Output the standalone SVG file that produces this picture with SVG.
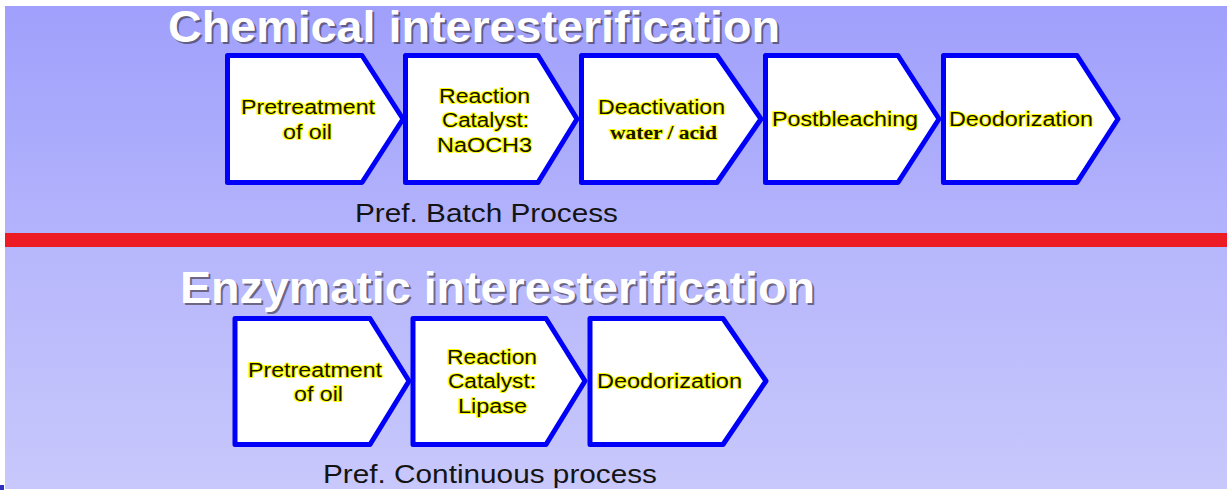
<svg xmlns="http://www.w3.org/2000/svg" width="1227" height="490" viewBox="0 0 1227 490">
  <defs>
    <linearGradient id="gTop" x1="0" y1="0" x2="0" y2="1">
      <stop offset="0" stop-color="#A0A0FC"/>
      <stop offset="1" stop-color="#B3B3FC"/>
    </linearGradient>
    <linearGradient id="gBot" x1="0" y1="0" x2="0" y2="1">
      <stop offset="0" stop-color="#B6B6FC"/>
      <stop offset="1" stop-color="#C8C8FC"/>
    </linearGradient>
  </defs>
  <style>
    .chev { fill: #FFFFFF; stroke: #0000FA; stroke-width: 5; stroke-linejoin: round; }
    .lbl { font-family: "Liberation Sans", Arial, sans-serif; font-size: 20px; fill: #141400; stroke: #FFFF00; stroke-width: 2.2; paint-order: stroke; stroke-linejoin: round; }
    .lbls { font-family: "Liberation Serif", "Times New Roman", serif; font-size: 18px; font-weight: bold; fill: #141400; stroke: #FFFF00; stroke-width: 2; paint-order: stroke; stroke-linejoin: round; }
    .title { font-family: "Liberation Sans", Arial, sans-serif; font-size: 45px; font-weight: bold; fill: #FFFFFF; }
    .shadow { font-family: "Liberation Sans", Arial, sans-serif; font-size: 45px; font-weight: bold; fill: #3A3036; opacity: 0.6; }
    .note { font-family: "Liberation Sans", Arial, sans-serif; font-size: 25px; fill: #141414; }
  </style>

  <!-- background -->
  <rect x="0" y="0" width="1227" height="490" fill="#FFFFFF"/>
  <rect x="5" y="6" width="1222" height="228" fill="url(#gTop)"/>
  <rect x="5" y="246" width="1222" height="243" fill="url(#gBot)"/>
  <rect x="5" y="233" width="1222" height="14" fill="#ED1C24"/>
  <rect x="0" y="485" width="4" height="5" fill="#3030C0"/>

  <!-- titles -->
  <g id="title-chemical">
    <text class="shadow" x="170" y="44" textLength="612" lengthAdjust="spacingAndGlyphs">Chemical interesterification</text>
    <text class="title" x="168" y="42" textLength="612" lengthAdjust="spacingAndGlyphs">Chemical interesterification</text>
  </g>
  <g id="title-enzymatic">
    <text class="shadow" x="182" y="305" textLength="635" lengthAdjust="spacingAndGlyphs">Enzymatic interesterification</text>
    <text class="title" x="180" y="303" textLength="635" lengthAdjust="spacingAndGlyphs">Enzymatic interesterification</text>
  </g>

  <!-- connectors (chevrons abut directly; none drawn) -->
  <g id="connectors"></g>

  <!-- upper chain -->
  <g id="c1">
    <path class="chev" d="M227.5,55.5 H362 L403,119 L362,182.5 H227.5 Z"/>
    <text class="lbl" x="241" y="114" textLength="134" lengthAdjust="spacingAndGlyphs">Pretreatment</text>
    <text class="lbl" x="283" y="139" textLength="49" lengthAdjust="spacingAndGlyphs">of oil</text>
  </g>
  <g id="c2">
    <path class="chev" d="M405.5,55.5 H538 L577,119 L538,182.5 H405.5 Z"/>
    <text class="lbl" x="439" y="103" textLength="91" lengthAdjust="spacingAndGlyphs">Reaction</text>
    <text class="lbl" x="442" y="127" textLength="87" lengthAdjust="spacingAndGlyphs">Catalyst:</text>
    <text class="lbl" x="437" y="152" textLength="95" lengthAdjust="spacingAndGlyphs">NaOCH3</text>
  </g>
  <g id="c3">
    <path class="chev" d="M581.5,55.5 H717 L761,119 L717,182.5 H581.5 Z"/>
    <text class="lbl" x="598" y="114" textLength="127" lengthAdjust="spacingAndGlyphs">Deactivation</text>
    <text class="lbls" x="610" y="139" textLength="107" lengthAdjust="spacingAndGlyphs">water / acid</text>
  </g>
  <g id="c4">
    <path class="chev" d="M765.5,55.5 H898 L939,119 L898,182.5 H765.5 Z"/>
    <text class="lbl" x="772" y="126" textLength="146" lengthAdjust="spacingAndGlyphs">Postbleaching</text>
  </g>
  <g id="c5">
    <path class="chev" d="M943.5,55.5 H1077 L1118,119 L1077,182.5 H943.5 Z"/>
    <text class="lbl" x="949" y="126" textLength="144" lengthAdjust="spacingAndGlyphs">Deodorization</text>
  </g>
  <g id="note-batch">
    <text class="note" x="355" y="222" textLength="263" lengthAdjust="spacingAndGlyphs">Pref. Batch Process</text>
  </g>

  <!-- lower chain -->
  <g id="e1">
    <path class="chev" d="M235,318.5 H370 L409,381 L370,444.5 H235 Z"/>
    <text class="lbl" x="248" y="377" textLength="134" lengthAdjust="spacingAndGlyphs">Pretreatment</text>
    <text class="lbl" x="294" y="401" textLength="49" lengthAdjust="spacingAndGlyphs">of oil</text>
  </g>
  <g id="e2">
    <path class="chev" d="M413,318.5 H546 L585,381 L546,444.5 H413 Z"/>
    <text class="lbl" x="447" y="364" textLength="90" lengthAdjust="spacingAndGlyphs">Reaction</text>
    <text class="lbl" x="448" y="388" textLength="88" lengthAdjust="spacingAndGlyphs">Catalyst:</text>
    <text class="lbl" x="458" y="413" textLength="69" lengthAdjust="spacingAndGlyphs">Lipase</text>
  </g>
  <g id="e3">
    <path class="chev" d="M590,318.5 H723 L766,381 L723,444.5 H590 Z"/>
    <text class="lbl" x="597" y="388" textLength="145" lengthAdjust="spacingAndGlyphs">Deodorization</text>
  </g>
  <g id="note-continuous">
    <text class="note" x="323" y="483" textLength="334" lengthAdjust="spacingAndGlyphs">Pref. Continuous process</text>
  </g>
</svg>
